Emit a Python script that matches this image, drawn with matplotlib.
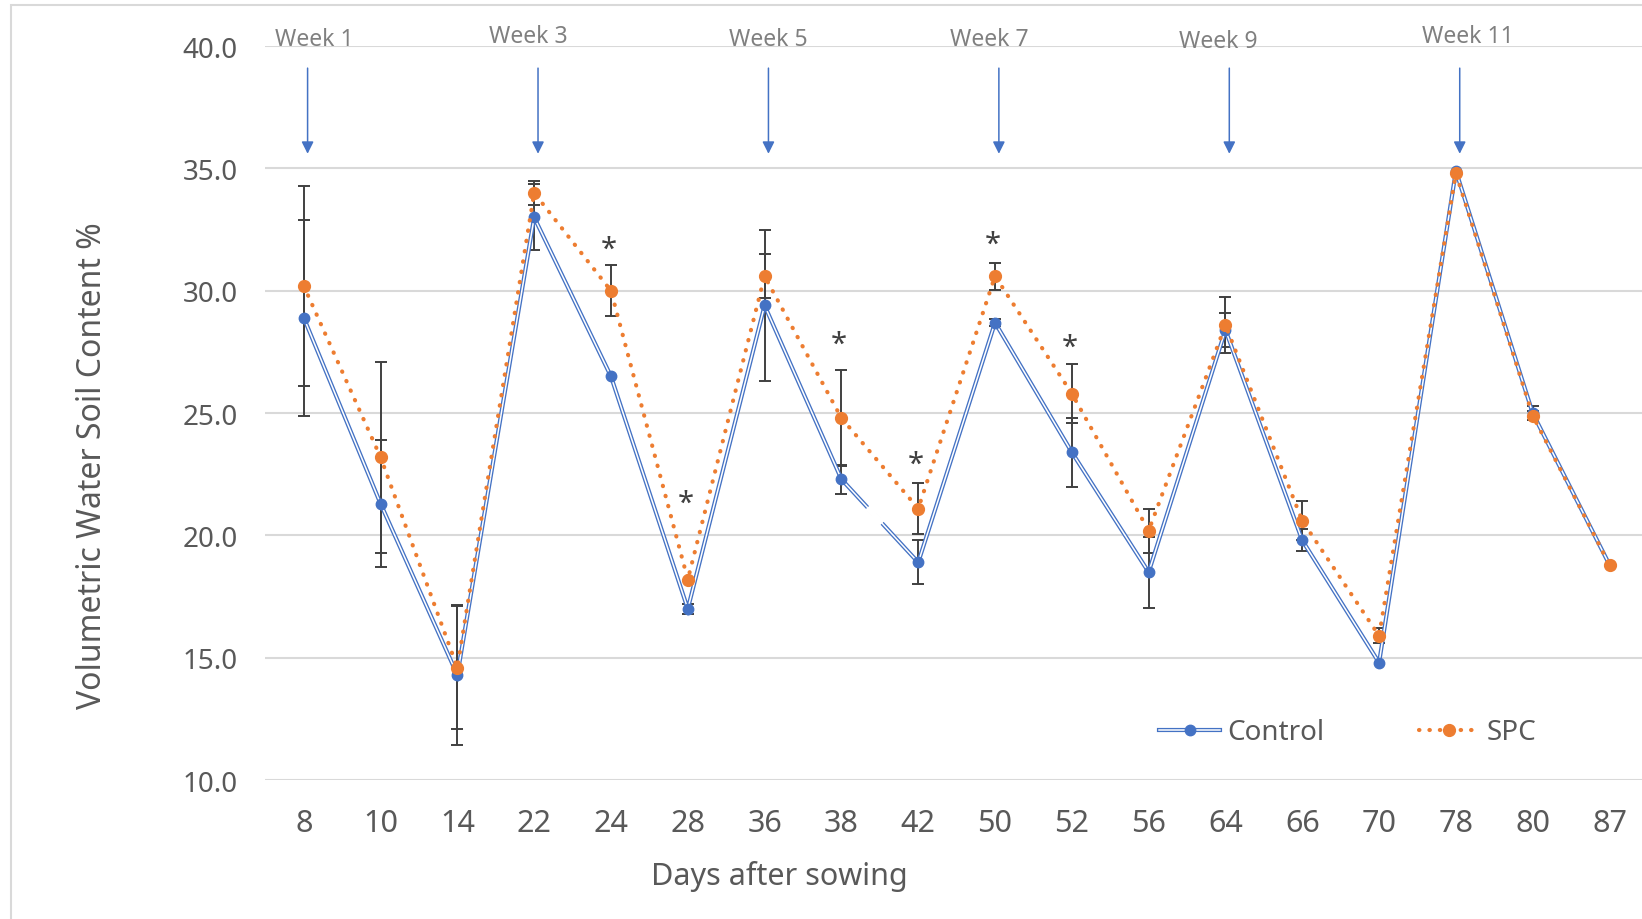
import numpy as np
import matplotlib
matplotlib.use("Agg")
import matplotlib.pyplot as plt
from matplotlib.patches import Rectangle
from matplotlib.legend_handler import HandlerTuple

plt.rcParams['font.family'] = ['Noto Sans', 'DejaVu Sans']

# data
days = ['8', '10', '14', '22', '24', '28', '36', '38', '42', '50', '52', '56', '64', '66', '70', '78', '80', '87']
control = [28.9, 21.3, 14.3, 33.0, 26.5, 17.0, 29.4, 22.3, 18.9, 28.7, 23.4, 18.5, 28.4, 19.8, 14.8, 34.9, 25.0, 18.8]
spc = [30.2, 23.2, 14.6, 34.0, 30.0, 18.2, 30.6, 24.8, 21.1, 30.6, 25.8, 20.2, 28.6, 20.6, 15.9, 34.8, 24.9, 18.8]
control_err = [4.0, 2.6, 2.85, 1.35, 0, 0.2, 3.1, 0.6, 0.9, 0.15, 1.4, 1.45, 0.7, 0.45, 0, 0, 0.3, 0]
spc_err = [4.1, 3.9, 2.5, 0.5, 1.05, 0, 0.9, 1.95, 1.05, 0.55, 1.2, 0.9, 1.15, 0.8, 0.3, 0, 0.2, 0]

star_days = ['24', '28', '38', '42', '50', '52']
star_y = [31.7, 21.3, 27.8, 22.9, 31.9, 27.7]

week_labels = ['Week 1', 'Week 3', 'Week 5', 'Week 7', 'Week 9', 'Week 11']
week_days = ['8', '22', '36', '50', '64', '78']

BLUE = '#4472C4'
ORANGE = '#ED7D31'
GRID = '#D9D9D9'
TXT = '#595959'
ERR = '#404040'

# small hand placement of the week labels (they were dragged in the original)
label_dx = [0.14, -0.07, 0.05, -0.08, -0.09, 0.15]
label_y = [40.3, 40.4, 40.3, 40.3, 40.2, 40.4]

x = np.arange(len(days))
control = np.array(control)
spc = np.array(spc)
control_err = np.array(control_err)
spc_err = np.array(spc_err)

fig = plt.figure(figsize=(16.42, 9.2), dpi=100)
ax = fig.add_axes([0.1616, 0.1509, 0.8420, 0.7979])

# chart frame (only left/top visible in the crop)
fig.patches.append(Rectangle((11 / 1642, -0.1), 1.2, 1.1 - 6 / 920,
                             transform=fig.transFigure, fill=False,
                             edgecolor=GRID, lw=1.5))

ax.set_xlim(-0.5, len(days) - 0.5)
ax.set_ylim(10, 40)
ax.set_yticks(np.arange(10, 40.1, 5))
ax.set_yticklabels([f'{v:.1f}' for v in np.arange(10, 40.1, 5)])
ax.set_xticks(x)
ax.set_xticklabels(days)
ax.grid(axis='y', color=GRID, lw=1.5)
ax.set_axisbelow(True)
for s in ax.spines.values():
    s.set_visible(False)
ax.tick_params(length=0, labelsize=20, labelcolor=TXT)
ax.tick_params(axis='x', pad=20, labelsize=22)
ax.tick_params(axis='y', pad=20)

# error bars
m = control_err > 0
ax.errorbar(x[m], control[m], yerr=control_err[m], fmt='none', ecolor=ERR,
            elinewidth=1.4, capsize=4.5, capthick=1.4, zorder=2)
m = spc_err > 0
ax.errorbar(x[m], spc[m], yerr=spc_err[m], fmt='none', ecolor=ERR,
            elinewidth=1.4, capsize=4.5, capthick=1.4, zorder=2)

# control: double line
c_outer, = ax.plot(x, control, color=BLUE, lw=3.0, zorder=3, solid_joinstyle='miter')
c_inner, = ax.plot(x, control, color='white', lw=1.1, zorder=3.1)
c_mark, = ax.plot(x, control, ls='none', marker='o', ms=7.5, color=BLUE, zorder=3.2)

# the break in the control line between day 38 and 42
i = days.index('38')
t = np.array([0.34, 0.53])
gx = x[i] + t * (x[i + 1] - x[i])
gy = control[i] + t * (control[i + 1] - control[i])
ax.plot(gx, gy, color='white', lw=4.5, solid_capstyle='butt', zorder=3.15)

# SPC: dotted
s_line, = ax.plot(x, spc, color=ORANGE, lw=3.0, ls=(0, (0.1, 2.4)),
                  dash_capstyle='round', marker='o', ms=8.5, zorder=4)

# significance stars
for d, yv in zip(star_days, star_y):
    ax.text(days.index(d) - 0.03, yv, '*', ha='center', va='center',
            fontsize=21, color=ERR, zorder=5)

# week arrows
for lab, d, dx, ly in zip(week_labels, week_days, label_dx, label_y):
    xi = days.index(d)
    ax.text(xi + dx, ly, lab, ha='center', va='center', fontsize=16.5,
            color='#808080', clip_on=False)
    ax.annotate('', xy=(xi + 0.05, 35.6), xytext=(xi + 0.05, 39.1),
                arrowprops=dict(arrowstyle='-|>', color=BLUE, lw=1.1,
                                mutation_scale=18, shrinkA=0, shrinkB=0),
                annotation_clip=False)

ax.set_xlabel('Days after sowing', fontsize=22, color=TXT)
ax.xaxis.set_label_coords(0.372, -0.13)
ax.set_ylabel('Volumetric Water Soil Content %', fontsize=23, color=TXT)
ax.yaxis.set_label_coords(-0.125, 0.43)
ax.xaxis.label.set_va('center')
ax.yaxis.label.set_va('center')

ax.legend([(c_outer, c_inner, c_mark), s_line], ['Control', 'SPC'],
          handler_map={tuple: HandlerTuple(ndivide=1)},
          loc='center', bbox_to_anchor=(0.783, 0.065), ncol=2, frameon=False,
          fontsize=20, labelcolor=TXT, handlelength=2.2, handletextpad=0.25,
          columnspacing=3.4)

fig.savefig('out.png', dpi=100)
